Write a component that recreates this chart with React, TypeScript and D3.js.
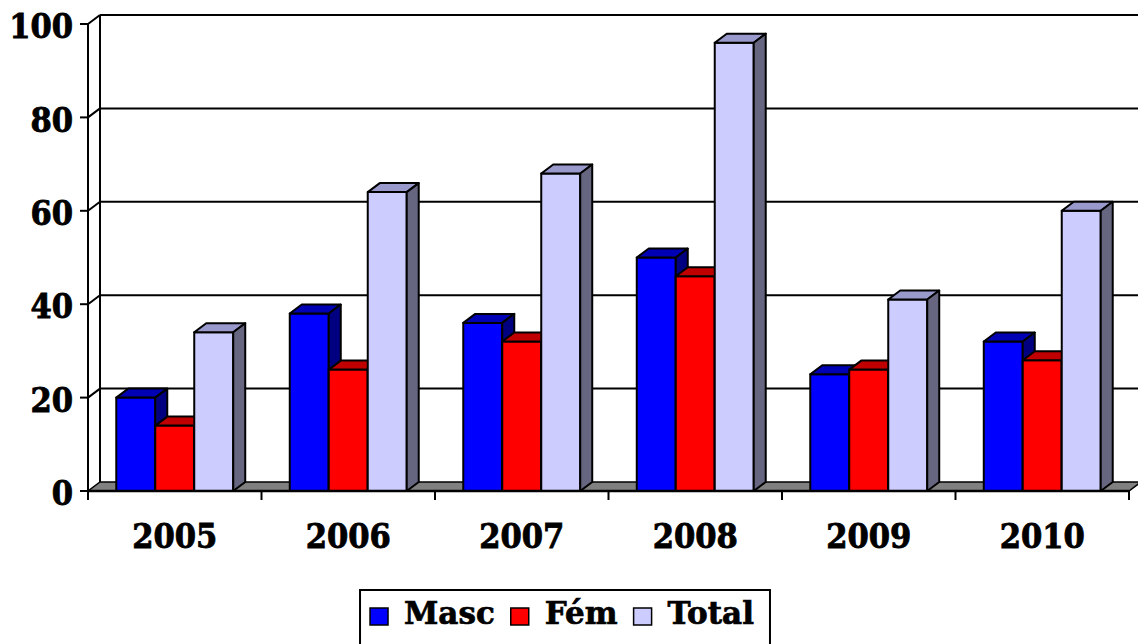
import { useEffect, useRef } from "react";
import * as d3 from "d3";

const years = ["2005", "2006", "2007", "2008", "2009", "2010"];
const seriesNames = ["Masc", "Fém", "Total"];
const mascValues = [20, 38, 36, 50, 25, 32];
const femValues = [14, 26, 32, 46, 26, 28];
const totalValues = [34, 64, 68, 96, 41, 60];
const yTicks = [0, 20, 40, 60, 80, 100];

// front, top, side
const seriesColors = [
  ["#0000FF", "#0000B4", "#000080"],
  ["#FF0000", "#C00000", "#800000"],
  ["#CCCCFF", "#9999CC", "#666680"],
];

const W = 1138;
const H = 644;
const DX = 12;
const DY = -9;
const numFont = "'DejaVu Serif', 'Liberation Serif', serif";

const App = () => {
  const ref = useRef<SVGSVGElement>(null);

  useEffect(() => {
    const svg = d3.select(ref.current);
    svg.selectAll("*").remove();

    const values = [mascValues, femValues, totalValues];
    const x = d3.scaleBand().domain(years).range([88, 1129]).padding(0);
    const inner = d3
      .scaleBand()
      .domain(seriesNames)
      .range([0, x.bandwidth()])
      .paddingInner(0)
      .paddingOuter(0.725);
    const y = d3.scaleLinear().domain([0, 100]).range([491, 24]);
    const x0 = x.range()[0];
    const x1 = x.range()[1];
    const base = y(0);

    // walls
    svg
      .append("rect")
      .attr("x", x0 + DX)
      .attr("y", y(100) + DY)
      .attr("width", W)
      .attr("height", base - y(100))
      .attr("fill", "#fff");

    const grid = svg.append("g").attr("stroke", "#000").attr("stroke-width", 2);
    yTicks
      .filter((t) => t > 0)
      .forEach((t) => {
        grid
          .append("line")
          .attr("x1", x0 + DX)
          .attr("x2", W + 5)
          .attr("y1", y(t) + DY)
          .attr("y2", y(t) + DY);
        grid
          .append("line")
          .attr("x1", x0)
          .attr("x2", x0 + DX)
          .attr("y1", y(t))
          .attr("y2", y(t) + DY);
      });
    yTicks.forEach((t) => {
      grid
        .append("line")
        .attr("x1", x0 - 8)
        .attr("x2", x0)
        .attr("y1", y(t))
        .attr("y2", y(t));
    });
    grid
      .append("line")
      .attr("x1", x0 + DX)
      .attr("x2", x0 + DX)
      .attr("y1", y(100) + DY)
      .attr("y2", base + DY);
    grid
      .append("line")
      .attr("x1", x0)
      .attr("x2", x0)
      .attr("y1", y(100))
      .attr("y2", base + 9);

    // floor
    svg
      .append("polygon")
      .attr(
        "points",
        [
          [x0, base],
          [x1, base],
          [x1 + DX, base + DY],
          [x0 + DX, base + DY],
        ].join(" ")
      )
      .attr("fill", "#808080")
      .attr("stroke", "#000")
      .attr("stroke-width", 1.5);

    // bars
    const bars = svg.append("g").attr("stroke", "#000").attr("stroke-width", 2).attr("stroke-linejoin", "round");
    years.forEach((yr, i) => {
      seriesNames.forEach((s, k) => {
        const v = values[k][i];
        const bx = (x(yr) as number) + (inner(s) as number);
        const bw = inner.bandwidth();
        const top = y(v);
        const g = bars.append("g");
        g.append("rect")
          .attr("x", bx)
          .attr("y", top)
          .attr("width", bw)
          .attr("height", base - top)
          .attr("fill", seriesColors[k][0]);
        g.append("polygon")
          .attr(
            "points",
            [
              [bx, top],
              [bx + bw, top],
              [bx + bw + DX, top + DY],
              [bx + DX, top + DY],
            ].join(" ")
          )
          .attr("fill", seriesColors[k][1]);
        g.append("polygon")
          .attr(
            "points",
            [
              [bx + bw, top],
              [bx + bw + DX, top + DY],
              [bx + bw + DX, base + DY],
              [bx + bw, base],
            ].join(" ")
          )
          .attr("fill", seriesColors[k][2]);
      });
    });

    // x axis line + ticks
    svg
      .append("line")
      .attr("x1", x0)
      .attr("x2", x1)
      .attr("y1", base)
      .attr("y2", base)
      .attr("stroke", "#000")
      .attr("stroke-width", 2.5);
    d3.range(years.length + 1).forEach((i) => {
      const tx = x0 + i * x.step();
      svg
        .append("line")
        .attr("x1", tx)
        .attr("x2", tx)
        .attr("y1", base)
        .attr("y2", base + 9)
        .attr("stroke", "#000")
        .attr("stroke-width", 2);
    });

    // labels
    svg
      .append("g")
      .selectAll("text")
      .data(yTicks)
      .enter()
      .append("text")
      .attr("x", 73)
      .attr("y", (d) => y(d) + 2)
      .attr("dy", "0.36em")
      .attr("text-anchor", "end")
      .attr("font-family", numFont)
      .attr("font-weight", "bold")
      .attr("font-stretch", "condensed")
      .attr("font-size", 34)
      .attr("stroke", "#000")
      .attr("stroke-width", 0.8)
      .text((d) => d);

    svg
      .append("g")
      .selectAll("text")
      .data(years)
      .enter()
      .append("text")
      .attr("x", (d) => (x(d) as number) + x.bandwidth() / 2)
      .attr("y", 548)
      .attr("text-anchor", "middle")
      .attr("font-family", numFont)
      .attr("font-weight", "bold")
      .attr("font-stretch", "condensed")
      .attr("font-size", 34)
      .attr("stroke", "#000")
      .attr("stroke-width", 0.8)
      .text((d) => d);

    // legend
    const legend = svg.append("g");
    const box = legend
      .append("rect")
      .attr("y", 590)
      .attr("height", 80)
      .attr("fill", "#fff")
      .attr("stroke", "#000")
      .attr("stroke-width", 2);
    let cx = 10;
    seriesNames.forEach((s, k) => {
      legend
        .append("rect")
        .attr("x", cx)
        .attr("y", 608)
        .attr("width", 18)
        .attr("height", 17)
        .attr("fill", seriesColors[k][0])
        .attr("stroke", "#000")
        .attr("stroke-width", 1.5);
      cx += 34;
      const t = legend
        .append("text")
        .attr("x", cx)
        .attr("y", 624)
        .attr("font-family", numFont)
        .attr("font-weight", "bold")
        .attr("font-size", 31)
        .attr("stroke", "#000")
        .attr("stroke-width", 0.7)
        .text(s);
      cx += (t.node() as SVGTextElement).getComputedTextLength() + 16;
    });
    box.attr("x", 0).attr("width", cx);
    legend.attr("transform", `translate(${565 - cx / 2},0)`);
  }, []);

  return (
    <svg
      ref={ref}
      width={W}
      height={H}
      style={{ position: "absolute", left: 0, top: 0, background: "#fff" }}
    />
  );
};

export default App;
